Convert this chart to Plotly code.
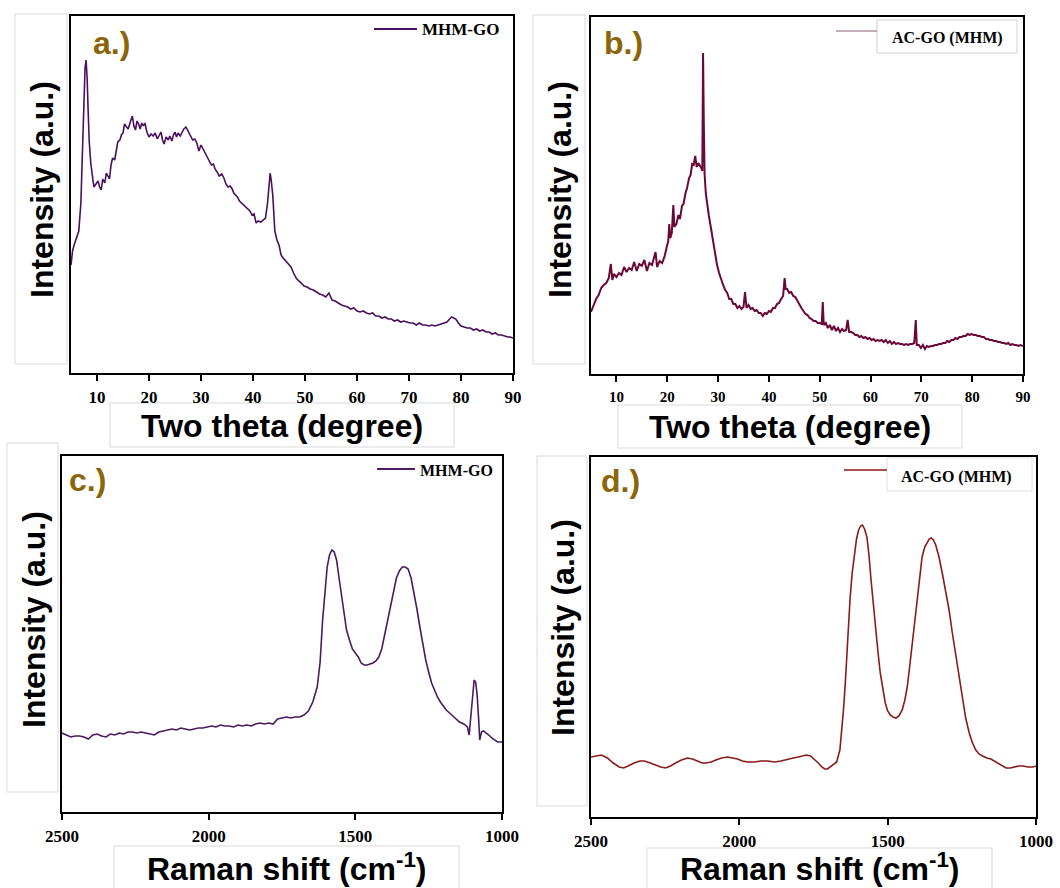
import plotly.graph_objects as go

# ---------------- data ----------------
# a.) XRD of MHM-GO : two theta (deg) / intensity (a.u.)
A_THETA = [5.0, 5.3, 5.6, 5.9, 6.2, 6.5, 6.9, 7.2, 7.5, 7.7,
           7.9, 8.1, 8.3, 8.5, 8.8, 9.1, 9.4, 9.8, 10.2, 10.5,
           10.8, 11.1, 11.5, 11.8, 12.1, 12.4, 12.7, 13.0, 13.4, 13.7,
           14.0, 14.4, 14.7, 15.0, 15.3, 15.7, 16.0, 16.4, 16.8, 17.1,
           17.4, 17.7, 18.0, 18.3, 18.6, 18.9, 19.2, 19.6, 20.0, 20.4,
           20.8, 21.2, 21.6, 22.0, 22.3, 22.6, 22.9, 23.3, 23.7, 24.0,
           24.4, 24.7, 25.0, 25.3, 25.6, 26.0, 26.4, 26.7, 27.1, 27.4,
           27.7, 28.1, 28.4, 28.8, 29.2, 29.6, 30.0, 30.3, 30.7, 31.1,
           31.5, 32.0, 32.4, 32.7, 33.1, 33.5, 34.0, 34.4, 34.8, 35.2,
           35.6, 36.0, 36.3, 36.6, 37.0, 37.4, 37.8, 38.2, 38.6, 39.0,
           39.4, 39.8, 40.2, 40.6, 41.0, 41.5, 42.0, 42.4, 42.8, 43.1,
           43.3, 43.5, 43.8, 44.2, 44.6, 45.0, 45.4, 45.8, 46.3, 46.8,
           47.3, 47.8, 48.3, 48.8, 49.3, 49.8, 50.4, 51.0, 51.6, 52.2,
           52.8, 53.4, 54.0, 54.6, 55.2, 55.8, 56.4, 57.0, 57.6, 58.2,
           58.8, 59.4, 60.0, 60.6, 61.2, 61.8, 62.4, 63.0, 63.6, 64.2,
           64.8, 65.4, 66.0, 66.6, 67.2, 67.8, 68.4, 69.0, 69.6, 70.2,
           70.8, 71.4, 72.0, 72.6, 73.2, 73.8, 74.4, 75.0, 75.6, 76.2,
           76.8, 77.3, 77.8, 78.2, 78.6, 79.0, 79.5, 80.0, 80.6, 81.2,
           81.8, 82.4, 83.0, 83.6, 84.2, 84.8, 85.4, 86.0, 86.6, 87.2,
           87.8, 88.4, 89.0, 89.5, 90.0]
A_INT = [108, 122, 128, 133, 136, 142, 170, 220, 275, 305,
         313, 295, 262, 232, 210, 199, 186, 189, 192, 186,
         183, 194, 190, 200, 197, 194, 208, 215, 213, 222,
         231, 233, 238, 240, 249, 246, 244, 251, 257, 247,
         243, 252, 249, 244, 250, 247, 250, 241, 236, 239,
         237, 240, 234, 238, 241, 233, 229, 236, 233, 237,
         232, 238, 241, 236, 240, 237, 242, 244, 246, 243,
         240, 236, 233, 234, 230, 222, 228, 225, 221, 217,
         213, 208, 209, 204, 201, 197, 199, 195, 189, 186,
         187, 184, 180, 178, 176, 172, 170, 167, 166, 163,
         162, 158, 159, 150, 152, 151, 153, 155, 170, 192,
         200, 193, 178, 142, 133, 128, 118, 115, 112, 109,
         106, 100, 95, 92, 90, 87, 86, 84, 83, 81,
         79, 78, 76, 80, 73, 72, 70, 68, 67, 66,
         64, 65, 62, 61, 62, 60, 59, 60, 57, 57,
         55, 56, 54, 54, 52, 53, 51, 52, 51, 50,
         50, 48, 50, 48, 48, 47, 48, 47, 48, 49,
         50, 51, 54, 56, 55, 54, 50, 47, 46, 45,
         45, 43, 44, 42, 43, 41, 41, 39, 40, 38,
         38, 37, 36, 36, 35]

# b.) XRD of AC-GO (MHM)
B_THETA = [5.0, 5.5, 6.0, 6.5, 7.0, 7.5, 8.0, 8.5, 8.9, 9.2,
           9.5, 10.0, 10.5, 11.0, 11.5, 12.0, 12.5, 13.0, 13.5, 14.0,
           14.5, 15.0, 15.5, 16.0, 16.5, 17.0, 17.4, 17.7, 18.0, 18.5,
           19.0, 19.5, 19.9, 20.2, 20.4, 20.6, 20.9, 21.2, 21.4, 21.8,
           22.2, 22.5, 22.9, 23.2, 23.6, 23.9, 24.3, 24.6, 24.9, 25.2,
           25.5, 25.8, 26.1, 26.4, 26.7, 26.9, 27.05, 27.2, 27.35, 27.6,
           27.9, 28.2, 28.6, 29.0, 29.4, 29.8, 30.2, 30.6, 31.0, 31.4,
           31.8, 32.2, 32.6, 33.0, 33.4, 33.8, 34.2, 34.6, 35.0, 35.3,
           35.6, 36.0, 36.4, 36.8, 37.2, 37.6, 38.0, 38.4, 38.8, 39.2,
           39.6, 40.0, 40.4, 40.8, 41.2, 41.6, 42.0, 42.4, 42.8, 43.1,
           43.3, 43.6, 44.0, 44.4, 44.8, 45.2, 45.6, 46.0, 46.4, 46.8,
           47.2, 47.6, 48.0, 48.4, 48.8, 49.2, 49.6, 50.0, 50.4, 50.6,
           50.8, 51.2, 51.6, 52.0, 52.4, 52.8, 53.2, 53.6, 54.0, 54.4,
           54.8, 55.2, 55.5, 55.8, 56.2, 56.6, 57.0, 57.4, 57.8, 58.2,
           58.6, 59.0, 59.4, 59.8, 60.2, 60.6, 61.0, 61.4, 61.8, 62.2,
           62.6, 63.0, 63.4, 63.8, 64.2, 64.6, 65.0, 65.4, 65.8, 66.2,
           66.6, 67.0, 67.4, 67.8, 68.2, 68.6, 68.9, 69.1, 69.5, 69.9,
           70.3, 70.7, 71.1, 71.5, 71.9, 72.3, 72.7, 73.1, 73.5, 73.9,
           74.3, 74.7, 75.1, 75.5, 75.9, 76.3, 76.7, 77.1, 77.5, 77.9,
           78.3, 78.7, 79.1, 79.5, 79.9, 80.3, 80.7, 81.1, 81.5, 81.9,
           82.3, 82.7, 83.1, 83.5, 83.9, 84.3, 84.7, 85.1, 85.5, 85.9,
           86.3, 86.7, 87.1, 87.5, 87.9, 88.3, 88.7, 89.1, 89.5, 90.0]
B_INT = [62, 69, 75, 79, 86, 89, 91, 96, 110, 94,
         100, 97, 101, 99, 107, 102, 106, 104, 112, 103,
         110, 108, 114, 103, 111, 109, 116, 122, 107, 113,
         111, 118, 127, 133, 150, 136, 141, 169, 147, 150,
         159, 155, 168, 170, 181, 186, 196, 199, 210, 209,
         218, 207, 211, 209, 206, 203, 321, 250, 200, 180,
         166, 158, 146, 133, 120, 109, 101, 94, 89, 84,
         81, 75, 75, 70, 70, 66, 68, 65, 67, 82,
         66, 69, 65, 66, 63, 64, 61, 61, 58, 61,
         60, 63, 62, 66, 66, 70, 71, 75, 78, 96,
         85, 85, 81, 82, 78, 77, 73, 69, 66, 63,
         60, 59, 56, 55, 53, 53, 51, 51, 50, 72,
         49, 51, 46, 49, 44, 48, 43, 46, 42, 45,
         43, 44, 54, 42, 42, 41, 39, 39, 37, 38,
         36, 37, 35, 36, 34, 35, 33, 34, 33, 34,
         32, 34, 31, 33, 30, 32, 30, 31, 30, 30,
         29, 30, 29, 30, 30, 31, 54, 29, 29, 26,
         29, 25, 28, 27, 28, 28, 29, 29, 30, 30,
         31, 31, 33, 32, 34, 34, 36, 35, 37, 37,
         38, 38, 40, 39, 40, 39, 39, 38, 38, 37,
         37, 35, 35, 34, 34, 33, 33, 32, 32, 31,
         31, 30, 31, 29, 30, 29, 29, 28, 29, 28]

# c.) Raman of MHM-GO : Raman shift (cm-1) / intensity (a.u.)
C_SHIFT = [2500, 2485, 2470, 2455, 2440, 2425, 2410, 2395, 2380, 2365,
           2350, 2335, 2320, 2305, 2290, 2275, 2260, 2245, 2230, 2215,
           2200, 2185, 2170, 2155, 2140, 2125, 2110, 2095, 2080, 2065,
           2050, 2035, 2020, 2005, 1990, 1975, 1960, 1945, 1930, 1915,
           1900, 1885, 1870, 1855, 1840, 1825, 1810, 1795, 1780, 1765,
           1750, 1735, 1720, 1705, 1690, 1675, 1660, 1645, 1630, 1620,
           1612, 1604, 1596, 1588, 1580, 1572, 1564, 1556, 1548, 1540,
           1530, 1520, 1510, 1500, 1490, 1480, 1470, 1460, 1450, 1440,
           1430, 1420, 1410, 1400, 1390, 1380, 1370, 1360, 1350, 1340,
           1330, 1320, 1310, 1300, 1290, 1280, 1270, 1260, 1250, 1240,
           1230, 1220, 1210, 1200, 1190, 1175, 1160, 1145, 1130, 1118,
           1112, 1106, 1100, 1095, 1090, 1085, 1080, 1076, 1070, 1062,
           1055, 1045, 1035, 1025, 1015, 1005, 1000]
C_INT = [79, 77, 75, 76, 76, 75, 73, 77, 78, 76,
         75, 78, 77, 79, 78, 80, 80, 79, 80, 79,
         78, 77, 80, 81, 82, 83, 82, 84, 83, 82,
         83, 84, 84, 85, 86, 85, 87, 86, 86, 85,
         87, 86, 87, 86, 88, 89, 88, 89, 88, 93,
         94, 95, 94, 95, 95, 97, 101, 110, 125, 150,
         190, 220, 245, 257, 262, 260, 252, 235, 218, 200,
         182, 172, 163, 159, 155, 149, 147, 147, 148, 149,
         151, 155, 163, 177, 193, 208, 222, 234, 241, 245,
         245, 243, 234, 220, 203, 185, 167, 152, 140, 129,
         122, 115, 110, 106, 102, 98, 94, 90, 88, 85,
         77, 96, 120, 132, 130, 118, 95, 72, 80, 81,
         79, 77, 74, 72, 70, 70, 70]

# d.) Raman of AC-GO (MHM)
D_SHIFT = [2500, 2485, 2465, 2445, 2425, 2405, 2390, 2375, 2355, 2335,
           2320, 2300, 2283, 2265, 2249, 2232, 2215, 2195, 2175, 2158,
           2141, 2125, 2113, 2095, 2079, 2060, 2040, 2022, 2006, 1990,
           1972, 1950, 1927, 1905, 1881, 1860, 1836, 1818, 1802, 1788,
           1774, 1760, 1748, 1734, 1722, 1712, 1703, 1695, 1683, 1672,
           1661, 1655, 1649, 1643, 1638, 1632, 1627, 1620, 1612, 1605,
           1598, 1591, 1585, 1578, 1570, 1563, 1556, 1549, 1542, 1533,
           1525, 1516, 1508, 1500, 1491, 1482, 1472, 1462, 1451, 1442,
           1434, 1426, 1417, 1408, 1400, 1392, 1384, 1375, 1367, 1360,
           1353, 1346, 1338, 1327, 1316, 1305, 1293, 1282, 1270, 1259,
           1248, 1237, 1225, 1214, 1203, 1192, 1180, 1166, 1152, 1140,
           1129, 1115, 1101, 1087, 1073, 1058, 1044, 1027, 1010, 1000]
D_INT = [60, 61, 62, 59, 54, 50, 49, 51, 54, 56,
         56, 54, 52, 50, 49, 51, 54, 57, 59, 58,
         56, 54, 54, 55, 57, 59, 60, 59, 58, 56,
         55, 55, 56, 56, 55, 56, 58, 59, 60, 61,
         62, 61, 58, 54, 50, 48, 48, 50, 53, 55,
         67, 85, 107, 133, 160, 190, 217, 243, 264, 278,
         287, 291, 292, 288, 280, 262, 237, 213, 190, 166,
         144, 127, 114, 106, 102, 100, 99, 101, 107, 117,
         130, 150, 174, 197, 220, 241, 260, 270, 275, 278,
         279, 277, 272, 260, 244, 226, 207, 184, 160, 138,
         117, 99, 84, 74, 67, 63, 61, 59, 58, 56,
         54, 51, 49, 49, 50, 51, 51, 50, 50, 51]

XRD_TICKS = [10, 20, 30, 40, 50, 60, 70, 80, 90]
RAMAN_TICKS = [2500, 2000, 1500, 1000]
PANEL_LABELS = ["a.)", "b.)", "c.)", "d.)"]
LEGEND_NAMES = ["MHM-GO", "AC-GO (MHM)", "MHM-GO", "AC-GO (MHM)"]
Y_TITLE = "Intensity (a.u.)"
XRD_TITLE = "Two theta (degree)"
RAMAN_TITLE = "Raman shift (cm<sup>-1</sup>)"

# ---------------- layout helpers ----------------
W, H = 1060, 888


def px(x):
    return x / W


def py(y):
    return 1 - y / H


COLORS = ["#4a0f5e", "#6b0839", "#4b1a60", "#8b1a1a"]
LABEL_COLOR = "#8b6508"
SANS = "Liberation Sans"
SERIF = "Liberation Serif"

frames = [
    dict(x0=71, x1=513, y0=16, y1=373),
    dict(x0=591, x1=1023, y0=17, y1=374),
    dict(x0=62, x1=502, y0=456, y1=812),
    dict(x0=591, x1=1036, y0=457, y1=817),
]
series = [(A_THETA, A_INT), (B_THETA, B_INT), (C_SHIFT, C_INT), (D_SHIFT, D_INT)]
widths = [1.6, 2.0, 1.6, 1.6]
tick_sizes = [17, 15, 17, 17]

fig = go.Figure()
layout = dict(width=W, height=H,
              margin=dict(l=0, r=0, t=0, b=0, pad=0, autoexpand=False),
              paper_bgcolor="white", plot_bgcolor="white", showlegend=False)

for i, (fr, (xs, ys)) in enumerate(zip(frames, series)):
    n = "" if i == 0 else str(i + 1)
    fig.add_trace(go.Scatter(x=xs, y=ys, mode="lines", name=LEGEND_NAMES[i],
                             line=dict(color=COLORS[i], width=widths[i]),
                             xaxis="x" + n, yaxis="y" + n, hoverinfo="x+y"))
    xrd = i < 2
    tv = XRD_TICKS if xrd else RAMAN_TICKS
    layout["xaxis" + n] = dict(
        domain=[px(fr["x0"]), px(fr["x1"])], anchor="y" + n,
        range=[5, 90] if xrd else [2500, 1000],
        showline=True, linecolor="black", linewidth=2, mirror=True,
        ticks="outside", ticklen=6, tickwidth=2, tickcolor="black",
        tickvals=tv, ticktext=["<b>%d</b>" % v for v in tv],
        tickfont=dict(family=SERIF, size=tick_sizes[i], color="black"),
        ticklabelstandoff=2, automargin=False,
        showgrid=False, zeroline=False)
    layout["yaxis" + n] = dict(
        domain=[py(fr["y1"]), py(fr["y0"])], anchor="x" + n,
        range=[0, fr["y1"] - fr["y0"]], automargin=False,
        showline=True, linecolor="black", linewidth=2, mirror=True,
        ticks="", showticklabels=False, showgrid=False, zeroline=False)

shapes = []
annotations = []


def box(x0, y0, x1, y1, color="#d9d9d9"):
    shapes.append(dict(type="rect", xref="paper", yref="paper",
                       x0=px(x0), x1=px(x1), y0=py(y1), y1=py(y0),
                       line=dict(color=color, width=1), fillcolor="rgba(0,0,0,0)",
                       layer="below"))


def text(x, y, s, size, family=SANS, color="black", angle=0, xanchor="center"):
    annotations.append(dict(xref="paper", yref="paper", x=px(x), y=py(y),
                            text="<b>%s</b>" % s, showarrow=False, textangle=angle,
                            xanchor=xanchor, yanchor="middle",
                            font=dict(family=family, size=size, color=color)))


def legline(x0, x1, y, color, width):
    shapes.append(dict(type="line", xref="paper", yref="paper",
                       x0=px(x0), x1=px(x1), y0=py(y), y1=py(y),
                       line=dict(color=color, width=width)))


# y-title boxes and texts
ybox = [(15, 14, 67, 364), (533, 15, 585, 364), (7, 443, 58, 792), (537, 456, 587, 806)]
ytxt = [(42, 190), (560, 190), (34, 620), (563, 628)]
for b, t in zip(ybox, ytxt):
    box(*b)
    text(t[0], t[1], Y_TITLE, 32, angle=-90)

# x-title boxes and texts
xbox = [(110, 403, 454, 447), (618, 405, 962, 448), (114, 846, 459, 895), (647, 848, 992, 895)]
xtxt = [(282, 426, XRD_TITLE), (790, 427, XRD_TITLE), (287, 867, RAMAN_TITLE), (820, 867, RAMAN_TITLE)]
for b, t in zip(xbox, xtxt):
    box(*b)
    text(t[0], t[1], t[2], 32)

# panel labels
for (x, y), s in zip([(111, 43), (623, 43), (87, 480), (620, 481)], PANEL_LABELS):
    text(x, y, s, 32, color=LABEL_COLOR)

# legends
legline(374, 417, 29, COLORS[0], 2)
text(420, 30, LEGEND_NAMES[0], 17, family=SERIF, xanchor="left")

shapes.append(dict(type="rect", xref="paper", yref="paper", x0=px(877), x1=px(1017),
                   y0=py(53), y1=py(20), line=dict(color="#d0d0d0", width=1),
                   fillcolor="white", layer="above"))
legline(836, 877, 31, "#8a5a72", 1)
text(947, 38, LEGEND_NAMES[1], 16, family=SERIF)

legline(377, 415, 469, COLORS[2], 2)
text(418, 470, LEGEND_NAMES[2], 16, family=SERIF, xanchor="left")

shapes.append(dict(type="rect", xref="paper", yref="paper", x0=px(887), x1=px(1032),
                   y0=py(491), y1=py(458), line=dict(color="#e0e0e0", width=1),
                   fillcolor="white", layer="above"))
legline(844, 887, 470, COLORS[3], 1.5)
text(956, 477, LEGEND_NAMES[3], 16, family=SERIF)

layout["shapes"] = shapes
layout["annotations"] = annotations
fig.update_layout(**layout)
fig.write_html("out.html")
